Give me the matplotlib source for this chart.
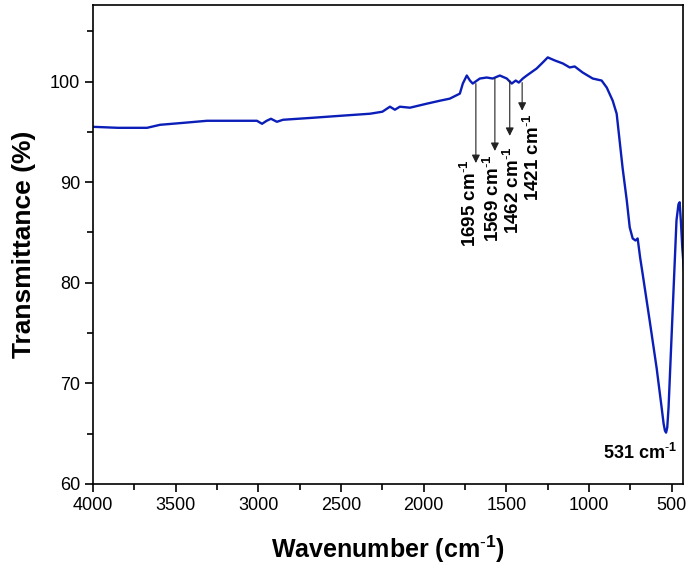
import matplotlib
matplotlib.use("Agg")
import matplotlib.pyplot as plt

plt.rcParams['font.family'] = ['Liberation Sans', 'DejaVu Sans']
plt.rcParams['mathtext.fontset'] = 'custom'
plt.rcParams['mathtext.rm'] = 'Liberation Sans'
plt.rcParams['mathtext.bf'] = 'Liberation Sans:bold'

wavenumber = [4000, 3850, 3674, 3595, 3450, 3311, 3150, 3009, 2978, 2950, 2924, 2888,
              2851, 2670, 2500, 2325, 2250, 2204, 2174, 2144, 2083, 1981, 1900, 1842,
              1781, 1763, 1739, 1720, 1703, 1660, 1618, 1582, 1539, 1497, 1467, 1443,
              1424, 1400, 1376, 1316, 1279, 1249, 1207, 1158, 1116, 1086, 1038, 977,
              923, 892, 856, 832, 814, 796, 771, 753, 735, 718, 705, 690, 675, 632,
              590, 560, 548, 540, 533, 526, 518, 494, 470, 458, 451, 443, 435, 425]
transmittance = [95.5, 95.4, 95.4, 95.7, 95.9, 96.1, 96.1, 96.1, 95.8, 96.1, 96.3, 96.0,
                 96.2, 96.4, 96.6, 96.8, 97.0, 97.5, 97.2, 97.5, 97.4, 97.8, 98.1, 98.3,
                 98.8, 99.8, 100.6, 100.1, 99.8, 100.3, 100.4, 100.3, 100.6, 100.3, 99.8, 100.1,
                 99.9, 100.3, 100.6, 101.3, 101.9, 102.4, 102.1, 101.8, 101.4, 101.5, 100.9, 100.3,
                 100.1, 99.4, 98.1, 96.8, 94.1, 91.4, 88.2, 85.5, 84.4, 84.2, 84.4, 82.5, 80.9, 76.2,
                 71.5, 67.6, 66.0, 65.3, 65.1, 65.6, 67.6, 76.9, 86.2, 87.8, 88.0, 86.0, 83.5, 81.3]

# arrow annotations: label, arrow x, arrow start y, arrow end y, label x, label top y
peak_labels = ["1695", "1569", "1462", "1421"]
arrow_x = [1684, 1569, 1479, 1404]
arrow_y0 = [99.8, 100.3, 100.1, 99.9]
arrow_y1 = [91.9, 93.1, 94.6, 97.1]
label_x = [1721, 1582, 1461, 1340]
label_y = [92.3, 92.8, 93.6, 96.8]

SUP = r'$^{\mathbf{\text{-}1}}$'

fig = plt.figure(figsize=(6.9, 5.66), dpi=100)
ax = fig.add_axes([0.135, 0.145, 0.855, 0.846])

ax.plot(wavenumber, transmittance, color='#0b1fb8', lw=1.7)

for lab, xa, y0, y1, xl, yl in zip(peak_labels, arrow_x, arrow_y0, arrow_y1, label_x, label_y):
    ax.annotate('', xy=(xa, y1), xytext=(xa, y0),
                arrowprops=dict(arrowstyle='-|>', color='#222222', lw=0.8,
                                mutation_scale=12, shrinkA=0, shrinkB=0))
    ax.text(xl, yl, lab + ' cm' + SUP, rotation=90, ha='center', va='top',
            fontsize=13.5, fontweight='bold')

ax.text(693, 63.1, '531 cm' + SUP, ha='center', va='center',
        fontsize=13, fontweight='bold')

ax.set_xlim(4000, 430)
ax.set_ylim(60, 107.6)
ax.set_xticks([4000, 3500, 3000, 2500, 2000, 1500, 1000, 500])
ax.set_xticks(range(3750, 400, -500), minor=True)
ax.set_yticks([60, 70, 80, 90, 100])
ax.set_yticks([65, 75, 85, 95, 105], minor=True)
ax.tick_params(axis='both', which='major', direction='out', length=6, width=1.2,
               labelsize=13)
ax.tick_params(axis='both', which='minor', direction='out', length=4, width=1.2)
for s in ax.spines.values():
    s.set_linewidth(1.2)

ax.set_xlabel('Wavenumber (cm' + SUP + ')', fontsize=18, fontweight='bold', labelpad=14)
ax.set_ylabel('Transmittance (%)', fontsize=19, fontweight='bold', labelpad=10)

fig.savefig('out.png', dpi=100)
